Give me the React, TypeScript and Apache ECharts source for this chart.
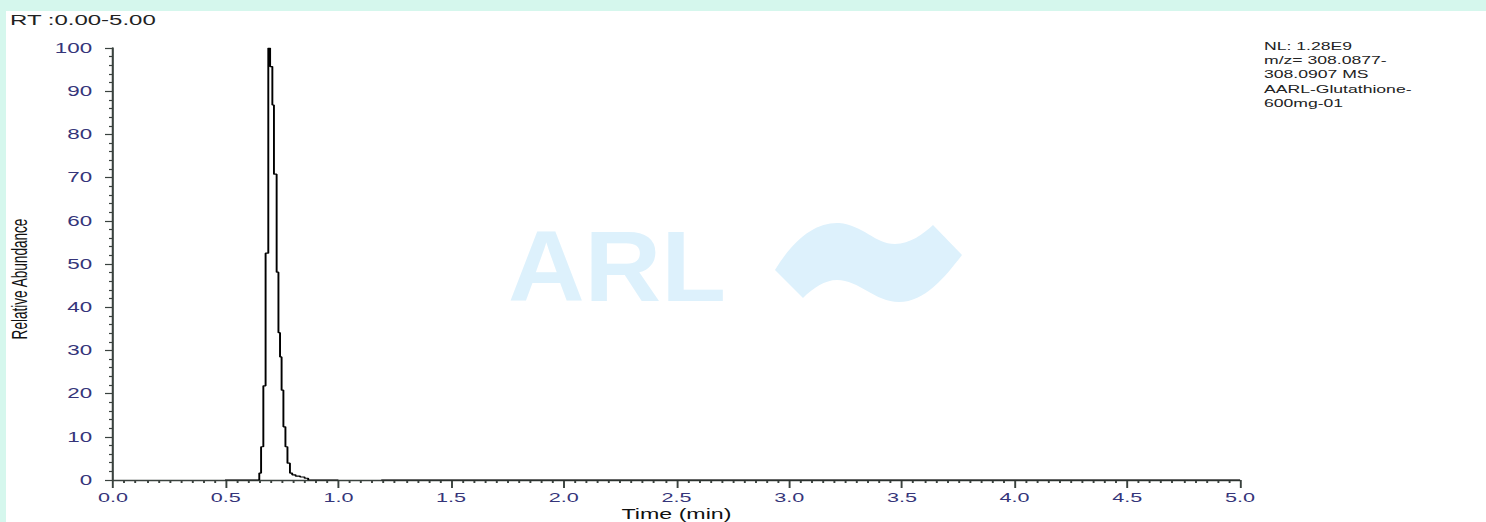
import React, { useEffect, useRef } from "react";
import * as echarts from "echarts";

// Chromatogram (step profile) – time in minutes, relative abundance in %
const peakTimes = [0.497, 0.649, 0.657, 0.667, 0.677, 0.689, 0.697, 0.707, 0.714, 0.726, 0.734, 0.741, 0.748, 0.756, 0.765, 0.774, 0.785, 0.795, 0.81, 0.83, 0.85, 0.866];
const peakValues = [0, 1.6, 7.7, 21.8, 52.5, 100, 95.7, 86.8, 70.8, 48.1, 34.1, 28.5, 20.8, 12.3, 7.7, 3.9, 1.6, 1.2, 0.9, 0.7, 0.4, 0];
const tailTimes = [1.19, 5.0];
const tailValues = [0, 0];

const xTickLabels = ["0.0", "0.5", "1.0", "1.5", "2.0", "2.5", "3.0", "3.5", "4.0", "4.5", "5.0"];
const infoLines = ["NL: 1.28E9", "m/z= 308.0877-", "308.0907 MS", "AARL-Glutathione-", "600mg-01"];

const WAVE_D =
  "M0 48 C20 15 42 0 64 1 C88 3 100 22 120 22 C135 22 148 12 158 3 L187 33 C170 55 150 80 124 80 C100 80 84 58 62 58 C50 58 38 66 28 76 Z";

// the original picture is stretched horizontally
const S = 1.6;
const FULL_W = 1486;
const FULL_H = 522;
const W = FULL_W / S;

let registered = false;

export default function App() {
  const ref = useRef<HTMLDivElement>(null);

  useEffect(() => {
    document.body.style.margin = "0";
    if (!registered) {
      echarts.graphic.registerShape("wave", echarts.graphic.extendPath(WAVE_D, {}));
      registered = true;
    }
    const chart = echarts.init(ref.current!, null, { renderer: "svg", width: W, height: FULL_H });

    const peakData: any[] = peakTimes.map((t, i) => [t, peakValues[i]]);
    const data: any[] = [...peakData, [1.0, null], ...tailTimes.map((t, i) => [t, tailValues[i]])];

    const labelColor = "#35357a";
    const axisColor = "#3a423e";
    const font = "Liberation Sans, Arial, sans-serif";

    chart.setOption({
      animation: false,
      backgroundColor: "#d5f7ed",
      grid: { left: 113 / S, right: 246 / S, top: 48, bottom: 42, containLabel: false, outerBoundsMode: "none" },
      xAxis: {
        type: "value",
        min: 0,
        max: 5,
        interval: 0.5,
        name: "Time (min)",
        nameLocation: "middle",
        nameGap: 26,
        nameMoveOverlap: false,
        nameTextStyle: { color: "#111", fontSize: 14.5, fontFamily: font },
        axisLine: { show: true, onZero: false, lineStyle: { color: axisColor, width: 1.4 } },
        axisTick: { show: true, length: 8, lineStyle: { color: axisColor, width: 1.2 } },
        minorTick: { show: true, splitNumber: 10, length: 3, lineStyle: { color: axisColor, width: 1.2 } },
        splitLine: { show: false },
        axisLabel: {
          color: labelColor,
          fontSize: 13.5,
          margin: 10,
          fontFamily: font,
          formatter: (v: number) => xTickLabels[Math.round(v / 0.5)] ?? v.toFixed(1),
        },
      },
      yAxis: {
        type: "value",
        min: 0,
        max: 100,
        interval: 10,
        axisLine: { show: true, lineStyle: { color: axisColor, width: 1.3 } },
        axisTick: { show: true, length: 5, lineStyle: { color: axisColor, width: 1.2 } },
        minorTick: { show: true, splitNumber: 5, length: 2.5, lineStyle: { color: axisColor, width: 1.2 } },
        splitLine: { show: false },
        axisLabel: {
          color: labelColor,
          fontSize: 14,
          margin: 13,
          fontFamily: font,
        },
      },
      graphic: [
        {
          type: "rect",
          z: -100,
          silent: true,
          shape: { x: 6 / S, y: 11, width: W, height: FULL_H },
          style: { fill: "#ffffff" },
        },
        {
          type: "text",
          x: 10 / S,
          y: 12,
          style: {
            text: "RT :0.00-5.00",
            fill: "#222",
            fontSize: 15,
            fontFamily: font,
          },
        },
        {
          type: "text",
          x: 1264 / S,
          y: 39,
          style: {
            text: infoLines.join("\n"),
            fill: "#222",
            fontSize: 11,
            lineHeight: 14.3,
            fontFamily: font,
          },
        },
        {
          type: "text",
          x: 20 / S,
          y: 279,
          rotation: Math.PI / 2,
          style: {
            text: "Relative Abundance",
            fill: "#111",
            fontSize: 13.6,
            align: "center",
            verticalAlign: "middle",
            fontFamily: font,
          },
        },
        {
          type: "text",
          z: -50,
          silent: true,
          x: 508 / S,
          y: 217,
          scaleX: 1.06 / S,
          style: {
            text: "ARL",
            fill: "#ddf1fc",
            fontSize: 100,
            fontWeight: "bold",
            fontFamily: font,
          },
        },
        {
          type: "wave",
          z: -50,
          silent: true,
          x: 775 / S,
          y: 222,
          scaleX: 1 / S,
          scaleY: 1,
          style: { fill: "#ddf1fc" },
        },
      ],
      series: [
        {
          type: "line",
          step: "end",
          data,
          showSymbol: false,
          connectNulls: false,
          lineStyle: { color: "#000", width: 1.2 },
          z: 5,
        },
      ],
    });

    return () => chart.dispose();
  }, []);

  return (
    <div
      ref={ref}
      style={{
        position: "fixed",
        left: 0,
        top: 0,
        width: W,
        height: FULL_H,
        transform: `scaleX(${S})`,
        transformOrigin: "0 0",
      }}
    />
  );
}
